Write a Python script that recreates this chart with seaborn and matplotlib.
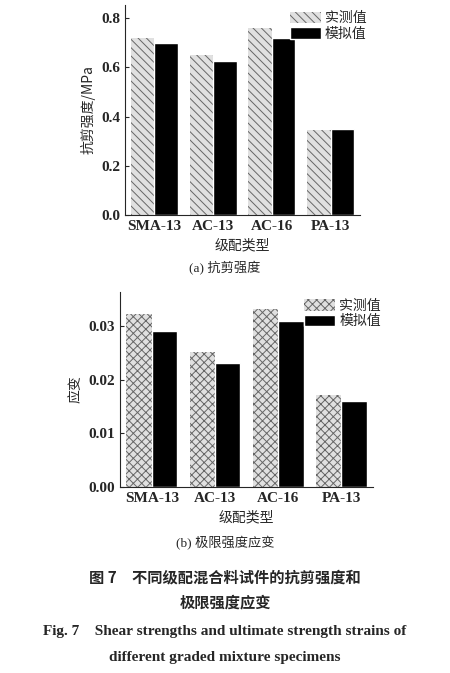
import matplotlib
matplotlib.use("Agg")
import matplotlib.pyplot as plt
import seaborn as sns
import pandas as pd

# data
mixes = ["SMA-13", "AC-13", "AC-16", "PA-13"]
shear_meas = [0.72, 0.65, 0.76, 0.345]
shear_sim = [0.70, 0.625, 0.72, 0.35]
strain_meas = [0.0322, 0.0252, 0.0332, 0.0172]
strain_sim = [0.029, 0.023, 0.031, 0.016]
series = ["实测值", "模拟值"]

sns.set_style("ticks")
plt.rcParams["font.family"] = ["Liberation Serif", "Noto Sans CJK SC"]
plt.rcParams["hatch.linewidth"] = 0.7

fig = plt.figure(figsize=(4.5, 6.73), dpi=100)
ax1 = fig.add_axes([0.278, 0.6805, 0.522, 0.312])
ax2 = fig.add_axes([0.267, 0.2764, 0.562, 0.2896])


def draw(ax, meas, sim, hatch, ylim, ticks, fmt, ylabel):
    df = pd.DataFrame({"mix": mixes * 2, "val": meas + sim,
                       "s": [series[0]] * 4 + [series[1]] * 4})
    sns.barplot(data=df, x="mix", y="val", hue="s", ax=ax,
                palette=["#e0e0e0", "black"], saturation=1, width=0.8)
    for p in ax.patches[:4]:
        p.set_hatch(hatch)
        p.set_edgecolor("#666666")
        p.set_linewidth(0)
    h, l = ax.get_legend_handles_labels()
    h[0].set_hatch(hatch)
    h[0].set_edgecolor("#666666")
    h[0].set_linewidth(0)
    ax.legend(h, l, loc="upper right", bbox_to_anchor=(1.08, 1.03), frameon=False,
              prop={"family": "Noto Sans CJK SC", "size": 10},
              handlelength=2.2, handleheight=0.9, labelspacing=0.1, handletextpad=0.3)
    ax.set_ylim(*ylim)
    ax.set_yticks(ticks)
    ax.set_yticklabels([fmt.format(t) for t in ticks], fontsize=11, fontweight="bold")
    ax.set_xticks(range(4))
    ax.set_xticklabels(mixes, fontsize=11, fontweight="bold")
    ax.set_xlabel("级配类型", fontsize=10, family="Noto Sans CJK SC")
    ax.set_ylabel(ylabel, fontsize=10, family="Noto Sans CJK SC")
    ax.tick_params(axis="x", length=0)
    ax.tick_params(axis="y", direction="in", length=3)
    sns.despine(ax=ax)
    ax.set_xlim(-0.5, 3.5)


draw(ax1, shear_meas, shear_sim, "\\\\\\\\", (0, 0.853), [0.0, 0.2, 0.4, 0.6, 0.8],
     "{:.1f}", "抗剪强度/MPa")
draw(ax2, strain_meas, strain_sim, "xxxx", (0, 0.0363), [0.0, 0.01, 0.02, 0.03],
     "{:.2f}", "应变")

cjk = "Noto Sans CJK SC"
fig.text(0.5, 1 - 268 / 673, "(a) 抗剪强度", ha="center", va="center", fontsize=9.5, family=["Liberation Serif", cjk])
fig.text(0.5, 1 - 543 / 673, "(b) 极限强度应变", ha="center", va="center", fontsize=9.5, family=["Liberation Serif", cjk])
fig.text(0.5, 1 - 577 / 673, "图 7　不同级配混合料试件的抗剪强度和", ha="center", va="center",
         fontsize=11, fontweight="bold", family=[cjk])
fig.text(0.5, 1 - 602 / 673, "极限强度应变", ha="center", va="center",
         fontsize=11, fontweight="bold", family=[cjk])
fig.text(0.5, 1 - 631 / 673, "Fig. 7    Shear strengths and ultimate strength strains of",
         ha="center", va="center", fontsize=11, fontweight="bold")
fig.text(0.5, 1 - 657 / 673, "different graded mixture specimens",
         ha="center", va="center", fontsize=11, fontweight="bold")

fig.savefig("out.png", dpi=100)
